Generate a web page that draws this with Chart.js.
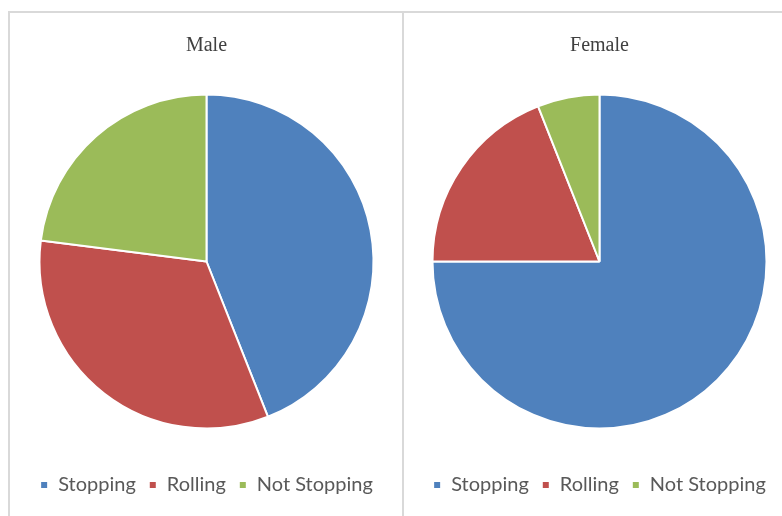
<!DOCTYPE html>
<html>
<head>
<meta charset="utf-8">
<script src="https://cdn.jsdelivr.net/npm/chart.js@4"></script>
<style>
  html, body { margin: 0; padding: 0; background: #fff; overflow: hidden; }
  .wrap { position: absolute; top: 11px; left: 8px; width: 800px; height: 520px; }
  .panel { position: absolute; top: 0; height: 510px; border: 2px solid #d9d9d9; border-bottom: none; box-sizing: border-box; }
  #p1 { left: 0; width: 396px; }
  #p2 { left: 394px; width: 400px; }
  canvas { display: block; }
</style>
</head>
<body>
<div class="wrap">
  <div class="panel" id="p1"><canvas id="male" width="393" height="508"></canvas></div>
  <div class="panel" id="p2"><canvas id="female" width="391" height="508"></canvas></div>
</div>
<script>
const categories = ['Stopping', 'Rolling', 'Not Stopping'];
const maleShares = [44, 33, 23];
const femaleShares = [75, 19, 6];
const sliceColors = ['#4f81bd', '#c0504d', '#9bbb59'];

function pieChart(id, title, values) {
  return new Chart(document.getElementById(id), {
    type: 'pie',
    data: {
      labels: categories,
      datasets: [{
        data: values,
        backgroundColor: sliceColors,
        borderColor: '#ffffff',
        borderWidth: 2
      }]
    },
    options: {
      responsive: false,
      animation: false,
      radius: 167,
      layout: { padding: { bottom: 16 } },
      plugins: {
        title: {
          display: true,
          text: title,
          color: '#404040',
          font: { family: '"Liberation Serif", serif', size: 20, weight: 'normal' },
          padding: { top: 21, bottom: 3 }
        },
        legend: {
          position: 'bottom',
          labels: {
            color: '#595959',
            font: { family: 'Lato, "Open Sans", sans-serif', size: 20 },
            usePointStyle: true,
            pointStyle: 'rect',
            boxWidth: 8,
            boxHeight: 8,
            padding: 13
          }
        },
        tooltip: { enabled: false }
      }
    }
  });
}

pieChart('male', 'Male', maleShares);
pieChart('female', 'Female', femaleShares);
</script>
</body>
</html>
